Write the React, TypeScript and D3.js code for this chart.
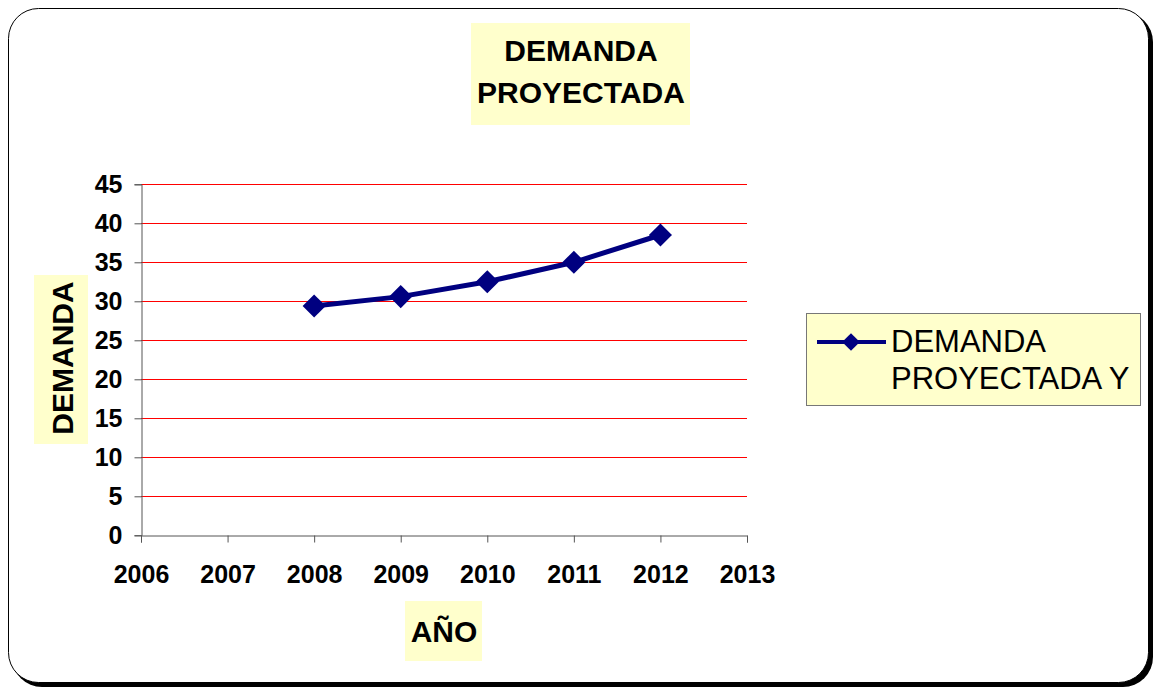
import * as React from "react";
import * as d3 from "d3";

// data
const years = [2008, 2009, 2010, 2011, 2012];
const demanda = [29.4, 30.6, 32.5, 35.0, 38.5];
const yTicks = [0, 5, 10, 15, 20, 25, 30, 35, 40, 45];
const xTicks = [2006, 2007, 2008, 2009, 2010, 2011, 2012, 2013];
const titleLines = ["DEMANDA", "PROYECTADA"];
const legendLines = ["DEMANDA", "PROYECTADA Y"];

const W = 1156;
const H = 689;
const FONT = "'Liberation Sans', Arial, sans-serif";

function drawChart(el: SVGSVGElement) {
  const svg = d3.select(el);
  svg.selectAll("*").remove();

  // frame with shadow
  svg.append("rect")
    .attr("x", 12).attr("y", 12).attr("width", 1141).attr("height", 675)
    .attr("rx", 30).attr("fill", "#000");
  svg.append("rect")
    .attr("x", 8.5).attr("y", 8.5).attr("width", 1140).attr("height", 674)
    .attr("rx", 30).attr("fill", "#fff").attr("stroke", "#000").attr("stroke-width", 1);

  const x = d3.scaleLinear().domain([2006, 2013]).range([141, 747]);
  const y = d3.scaleLinear().domain([0, 45]).range([535.3, 184.3]);

  // gridlines
  svg.append("g").selectAll("line")
    .data(yTicks.filter(d => d > 0))
    .join("line")
    .attr("x1", x(2006)).attr("x2", x(2013))
    .attr("y1", d => Math.round(y(d)) + 0.5).attr("y2", d => Math.round(y(d)) + 0.5)
    .attr("stroke", "#ff0000").attr("stroke-width", 1);

  // axes
  const yAxis = svg.append("g")
    .attr("transform", `translate(${x(2006) + 0.5},0)`)
    .call(d3.axisLeft(y).tickValues(yTicks).tickSize(7).tickPadding(12).tickFormat(d3.format("d")));
  const xAxis = svg.append("g")
    .attr("transform", `translate(0,${Math.round(y(0)) + 0.5})`)
    .call(d3.axisBottom(x).tickValues(xTicks).tickSize(7).tickPadding(23).tickFormat(d3.format("d")));
  [yAxis, xAxis].forEach(a => {
    a.select(".domain").attr("stroke", "#555");
    a.selectAll(".tick line").attr("stroke", "#555");
    a.selectAll("text")
      .attr("fill", "#000")
      .style("font-family", FONT)
      .style("font-size", "25px")
      .style("font-weight", "bold");
  });
  yAxis.selectAll("text").attr("dy", "0.34em");
  xAxis.selectAll("text").attr("dy", "0.71em");

  // series line
  const line = d3.line<number>()
    .x((d, i) => x(years[i]))
    .y(d => y(d));
  svg.append("path")
    .datum(demanda)
    .attr("d", line)
    .attr("fill", "none")
    .attr("stroke", "#000080")
    .attr("stroke-width", 5);

  const diamond = d3.symbol().type(d3.symbolDiamond2).size(340);
  svg.append("g").selectAll("path")
    .data(demanda)
    .join("path")
    .attr("d", diamond)
    .attr("transform", (d, i) => `translate(${x(years[i])},${y(d)})`)
    .attr("fill", "#000080");

  // title box
  svg.append("rect")
    .attr("x", 471).attr("y", 23).attr("width", 219).attr("height", 102)
    .attr("fill", "#ffffcc");
  svg.append("text")
    .attr("x", 581).attr("y", 61)
    .attr("text-anchor", "middle")
    .style("font-family", FONT).style("font-size", "30px").style("font-weight", "bold")
    .selectAll("tspan")
    .data(titleLines)
    .join("tspan")
    .attr("x", 581)
    .attr("dy", (d, i) => (i === 0 ? 0 : 42))
    .text(d => d);

  // y axis title
  svg.append("rect")
    .attr("x", 34).attr("y", 275).attr("width", 54).attr("height", 169)
    .attr("fill", "#ffffcc");
  svg.append("text")
    .attr("transform", "translate(73,358) rotate(-90)")
    .attr("text-anchor", "middle")
    .style("font-family", FONT).style("font-size", "30px").style("font-weight", "bold")
    .text("DEMANDA");

  // x axis title
  svg.append("rect")
    .attr("x", 405).attr("y", 601).attr("width", 77).attr("height", 60)
    .attr("fill", "#ffffcc");
  svg.append("text")
    .attr("x", 444).attr("y", 642)
    .attr("text-anchor", "middle")
    .style("font-family", FONT).style("font-size", "30px").style("font-weight", "bold")
    .text("AÑO");

  // legend
  const lg = svg.append("g");
  lg.append("rect")
    .attr("x", 806.5).attr("y", 313.5).attr("width", 334).attr("height", 92)
    .attr("fill", "#ffffcc").attr("stroke", "#777").attr("stroke-width", 1);
  lg.append("line")
    .attr("x1", 817).attr("x2", 886).attr("y1", 342).attr("y2", 342)
    .attr("stroke", "#000080").attr("stroke-width", 4);
  lg.append("path")
    .attr("d", d3.symbol().type(d3.symbolDiamond2).size(200)())
    .attr("transform", "translate(851,342)")
    .attr("fill", "#000080");
  lg.append("text")
    .style("font-family", FONT).style("font-size", "31px")
    .selectAll("tspan")
    .data(legendLines)
    .join("tspan")
    .attr("x", 891)
    .attr("y", (d, i) => 352 + i * 37)
    .text(d => d);
}

const App = () => {
  const ref = React.useRef<SVGSVGElement>(null);
  React.useEffect(() => {
    if (ref.current) drawChart(ref.current);
  }, []);
  return (
    <svg
      ref={ref}
      width={W}
      height={H}
      style={{ position: "absolute", left: 0, top: 0, display: "block" }}
    />
  );
};

export default App;
